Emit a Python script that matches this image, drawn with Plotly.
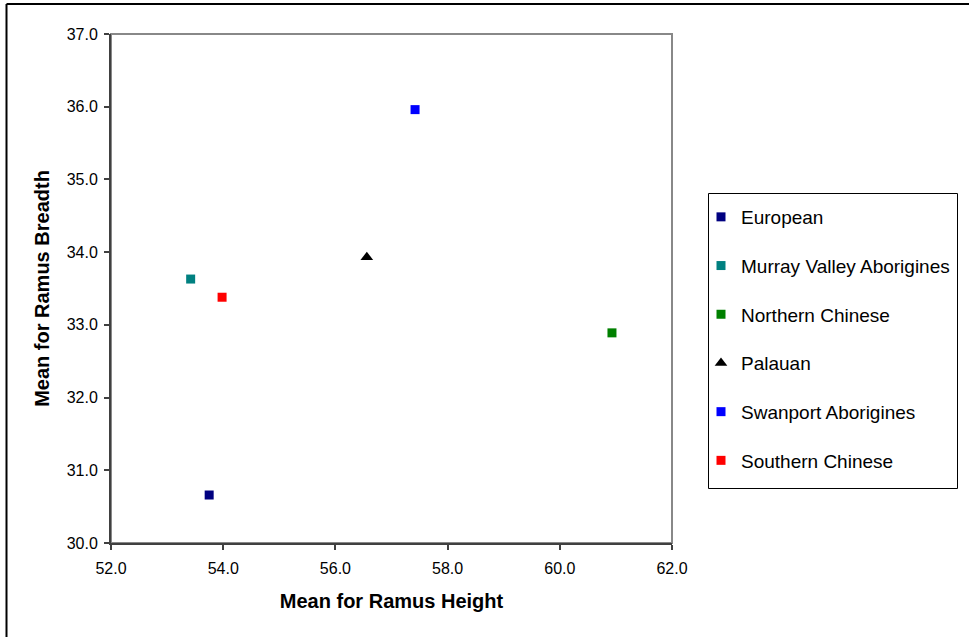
import plotly.graph_objects as go

# Group means of ramus measurements
groups = ["European", "Murray Valley Aborigines", "Northern Chinese",
          "Palauan", "Swanport Aborigines", "Southern Chinese"]
ramus_height = [53.75, 53.42, 60.93, 56.56, 57.42, 53.98]
ramus_breadth = [30.66, 33.63, 32.89, 33.93, 35.96, 33.38]
colors = ["#000080", "#008080", "#008000", "#000000", "#0000FF", "#FF0000"]
symbols = ["square", "square", "square", "triangle-up", "square", "square"]

x_ticks = [52.0, 54.0, 56.0, 58.0, 60.0, 62.0]
y_ticks = [30.0, 31.0, 32.0, 33.0, 34.0, 35.0, 36.0, 37.0]

W, H = 969, 637
ML, MR, MT, MB = 111, 297, 34, 94
PW, PH = W - ML - MR, H - MT - MB


def px_x(px):
    return (px - ML) / PW


def px_y(py):
    return (H - MB - py) / PH


fig = go.Figure()
for i, name in enumerate(groups):
    fig.add_trace(go.Scatter(
        x=[ramus_height[i]], y=[ramus_breadth[i]],
        mode="markers", name=name, legendgroup=name,
        marker=dict(symbol=symbols[i], color=colors[i],
                    size=11 if symbols[i] == "triangle-up" else 9,
                    line=dict(width=0)),
    ))

axis_common = dict(
    showline=True, linecolor="#404040", linewidth=2,
    ticks="outside", ticklen=5, tickwidth=1.5, tickcolor="#404040",
    showgrid=False, zeroline=False, mirror=False,
    tickfont=dict(family="Liberation Sans, Arial", size=16, color="black"),
    tickformat=".1f",
)

fig.update_layout(
    width=W, height=H,
    margin=dict(l=ML, r=MR, t=MT, b=MB),
    paper_bgcolor="white", plot_bgcolor="white",
    font=dict(family="Liberation Sans, Arial", color="black"),
    xaxis=dict(range=[52, 62], tickvals=x_ticks, ticklabelstandoff=5,
               title=dict(text="<b>Mean for Ramus Height</b>",
                          font=dict(size=20), standoff=18),
               **axis_common),
    yaxis=dict(range=[30, 37], tickvals=y_ticks, ticklabelstandoff=3,
               title=dict(text="<b>Mean for Ramus Breadth</b>",
                          font=dict(size=20), standoff=12),
               **axis_common),
    legend=dict(
        x=px_x(701), y=px_y(198), xanchor="left", yanchor="top",
        borderwidth=0, bgcolor="rgba(0,0,0,0)",
        font=dict(family="Liberation Sans, Arial", size=19, color="black"),
        tracegroupgap=21, traceorder="grouped",
    ),
    shapes=[
        # light frame around plot area (top and right edges)
        dict(type="rect", xref="x domain", yref="y domain",
             x0=0, x1=1, y0=0, y1=1, line=dict(color="#888888", width=2),
             layer="below"),
        # legend box
        dict(type="rect", xref="paper", yref="paper",
             x0=px_x(708.5), x1=px_x(957.5), y0=px_y(193.5), y1=px_y(488.5),
             line=dict(color="black", width=1), layer="below"),
        # outer chart border
        dict(type="line", xref="paper", yref="paper",
             x0=px_x(6.5), x1=px_x(975), y0=px_y(4), y1=px_y(4),
             line=dict(color="black", width=2)),
        dict(type="line", xref="paper", yref="paper",
             x0=px_x(6.5), x1=px_x(6.5), y0=px_y(4), y1=px_y(645),
             line=dict(color="black", width=2)),
    ],
)

fig.write_html("out.html")
